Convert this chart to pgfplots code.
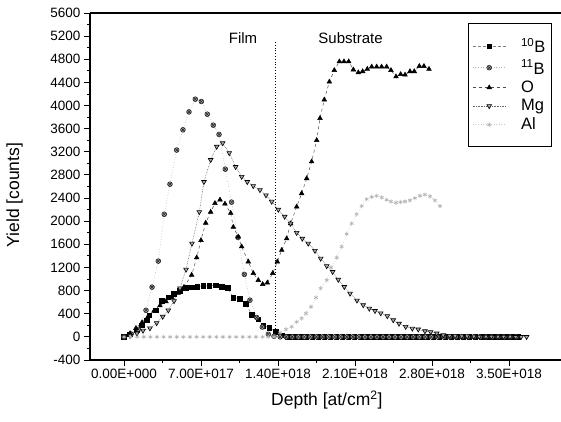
\documentclass[border=0pt]{standalone}
\usepackage{fontspec}
\setmainfont{Liberation Sans}
\usepackage{pgfplots}
\pgfplotsset{compat=1.18}

\begin{document}
\begin{tikzpicture}
\begin{axis}[
  scale only axis,
  width=471pt, height=347pt,
  xmin=-3.09, xmax=39.73,
  ymin=-400, ymax=5600,
  axis x line*=bottom, axis y line*=left,
  axis line style={-, line width=1.2pt},
  tick align=outside,
  major tick length=6pt, minor tick length=3pt,
  every tick/.style={black, line width=0.9pt},
  xtick={0,7,14,21,28,35},
  xticklabels={0.00E+000,7.00E+017,1.40E+018,2.10E+018,2.80E+018,3.50E+018},
  minor x tick num=1,
  ytick={-400,0,400,...,5600},
  minor y tick num=1,
  /pgf/number format/assume math mode=true,
  /pgf/number format/1000 sep={},
  ticklabel style={font=\fontsize{13.5}{15}\selectfont},
  xlabel={Depth [at/cm\textsuperscript{2}]},
  ylabel={Yield [counts]},
  label style={font=\fontsize{17.5}{20}\selectfont},
  xlabel style={at={(axis description cs:0.503,-0.115)}, anchor=center},
  ylabel style={at={(axis description cs:-0.16,0.475)}, anchor=center},
  legend style={at={(axis description cs:0.8025,0.971)}, anchor=north west,
    draw=black, line width=0.9pt, fill=white, inner xsep=4pt, inner ysep=13pt,
    font=\fontsize{16.5}{18.8}\selectfont, row sep=1.5pt},
  legend cell align=left,
  legend image code/.code={\draw[mark repeat=2,mark phase=2] plot coordinates {(0pt,0pt) (16.5pt,0pt) (33pt,0pt)};
    \path (46pt,0pt);},
  clip=false,
]
% 10B
\addplot[densely dashed, gray, line width=0.5pt, mark=square*, mark size=2.3pt,
  mark options={solid, fill=black, draw=black}] coordinates {
(0.00,0) (0.55,45) (1.15,115) (1.61,200) (2.06,290) (2.30,375) (2.88,460) (3.43,620)
(4.03,685) (4.55,745) (5.09,800) (5.64,850) (6.15,860) (6.66,870) (7.21,880) (7.75,885)
(8.34,895) (8.88,865) (9.43,845) (9.94,680) (10.55,660) (11.09,570) (11.61,385) (12.21,305)
(12.66,195) (13.21,160) (13.82,85) (14.34,30) (14.90,0) (15.45,0) (16.00,0) (16.55,0)
(17.10,0) (17.65,0) (18.20,0) (18.75,0) (19.30,0) (19.85,0) (20.40,0) (20.95,0) (21.50,0)
(22.05,0) (22.60,0) (23.15,0) (23.70,0) (24.25,0) (24.80,0) (25.35,0) (25.90,0) (26.45,0)
(27.00,0) (27.55,0) (28.10,0) (28.65,0) (29.20,0) (29.75,0) (30.30,0) (30.85,0) (31.40,0)
(31.95,0) (32.50,0) (33.05,0) (33.60,0) (34.15,0) (34.70,0) (35.25,0) (35.80,0)};
\addlegendentry{\textsuperscript{10}B}
% 11B
\addplot[dotted, gray!60, line width=0.6pt, mark=otimes*, mark size=2.4pt,
  mark options={solid, fill=gray!60, draw=black!85}] coordinates {
(0.00,0) (0.65,50) (1.30,130) (2.00,460) (2.55,860) (3.12,1310) (3.66,2120) (4.18,2640)
(4.79,3230) (5.36,3580) (5.91,3890) (6.48,4110) (7.03,4070) (7.57,3850) (8.12,3660)
(8.64,3500) (9.21,2900) (9.78,2330) (10.36,1720) (10.94,1080) (11.45,635) (12.06,335)
(12.57,170) (13.12,45) (13.64,10) (14.20,0) (14.75,0) (15.30,0) (15.85,0) (16.40,0)
(16.95,0) (17.50,0) (18.05,0) (18.60,0) (19.15,0) (19.70,0) (20.25,0) (20.80,0) (21.35,0)
(21.90,0) (22.45,0) (23.00,0) (23.55,0) (24.10,0) (24.65,0) (25.20,0) (25.75,0) (26.30,0)
(26.85,0) (27.40,0) (27.95,0) (28.50,0) (29.05,0) (29.60,0) (30.15,0) (30.70,0) (31.25,0)
(31.80,0) (32.35,0) (32.90,0) (33.45,0) (34.00,0) (34.55,0) (35.10,0) (35.65,0)};
\addlegendentry{\textsuperscript{11}B}
% O
\addplot[dashed, black!70, line width=0.5pt, mark=triangle*, mark size=2.7pt,
  mark options={solid, fill=black, draw=black}] coordinates {
(0.00,0) (0.55,60) (1.09,150) (1.64,250) (2.18,350) (2.73,450) (3.27,540) (3.82,610)
(4.36,680) (4.91,760) (5.45,860) (6.15,1070) (6.61,1370) (7.00,1670) (7.43,1970)
(7.88,2160) (8.27,2310) (8.73,2370) (9.18,2300) (9.70,2140) (9.94,1900) (10.39,1730)
(10.70,1560) (11.30,1300) (11.76,1100) (12.21,980) (12.61,910) (13.03,935) (13.52,1100)
(13.94,1300) (14.34,1500) (14.79,1700) (15.15,1960) (15.70,2250) (16.15,2480) (16.61,2740)
(17.06,3030) (17.52,3400) (17.82,3780) (18.21,4100) (18.67,4410) (19.12,4610) (19.58,4760)
(20.00,4760) (20.43,4760) (20.85,4620) (21.30,4570) (21.70,4590) (22.12,4630) (22.52,4670)
(22.97,4670) (23.42,4670) (23.88,4670) (24.27,4610) (24.73,4500) (25.15,4540) (25.55,4530)
(26.00,4590) (26.39,4590) (26.85,4680) (27.27,4680) (27.73,4630)};
\addlegendentry{O}
% Mg
\addplot[densely dotted, black!60, line width=0.6pt, mark=triangle*, mark size=2.7pt,
  mark options={solid, rotate=180, fill=gray!70, draw=black}] coordinates {
(0.00,0) (0.55,20) (1.18,60) (1.73,110) (2.36,150) (2.97,240) (3.52,350) (4.03,460)
(4.55,620) (5.09,840) (5.64,1165) (6.18,1615) (6.85,2160) (7.27,2680) (7.88,3060)
(8.43,3290) (8.97,3350) (9.57,3180) (10.15,2940) (10.70,2770) (11.21,2680) (11.75,2610)
(12.36,2540) (12.91,2450) (13.43,2340) (14.03,2200) (14.61,2080) (15.15,1960) (15.70,1800)
(16.21,1700) (16.75,1615) (17.36,1490) (17.88,1355) (18.43,1225) (18.97,1125) (19.48,990)
(20.03,865) (20.55,750) (21.18,630) (21.75,550) (22.30,490) (22.82,450) (23.34,410)
(23.94,360) (24.48,290) (25.00,230) (25.61,175) (26.21,145) (26.75,130) (27.36,100)
(27.88,85) (28.43,60) (29.03,30) (29.60,20) (30.10,15) (30.70,10) (31.20,10) (31.80,8)
(32.30,5) (32.90,5) (33.40,5) (34.00,3) (34.50,3) (35.10,2) (35.60,0) (36.10,0) (36.60,0)};
\addlegendentry{Mg}
% Al
\addplot[dotted, gray!45, line width=0.6pt, mark=asterisk, mark size=2.2pt,
  mark options={solid, gray!60}] coordinates {
(0.00,0) (0.60,0) (1.20,0) (1.80,0) (2.40,0) (3.00,0) (3.60,0) (4.20,0) (4.80,0)
(5.40,0) (6.00,0) (6.60,0) (7.20,0) (7.80,0) (8.40,0) (9.00,0) (9.60,0) (10.20,0)
(10.80,0) (11.40,0) (12.00,0) (12.60,0) (13.10,0) (13.64,0) (14.18,70) (14.73,130)
(15.24,175) (15.70,260) (16.15,320) (16.55,405) (17.00,520) (17.45,680) (17.88,840)
(18.43,980) (18.82,1200) (19.34,1370) (19.79,1560) (20.24,1780) (20.70,1960) (21.15,2120)
(21.61,2260) (22.06,2380) (22.52,2420) (22.97,2440) (23.43,2410) (23.88,2370) (24.27,2340)
(24.73,2320) (25.15,2330) (25.55,2340) (26.00,2360) (26.45,2400) (26.91,2440) (27.36,2460)
(27.82,2430) (28.27,2360) (28.73,2260)};
\addlegendentry{Al}
% film / substrate boundary
\draw[dotted, line width=0.8pt] (axis cs:13.8,0) -- (axis cs:13.8,5100);
\node[font=\fontsize{15}{18}\selectfont] at (axis cs:10.82,5170) {Film};
\node[font=\fontsize{15}{18}\selectfont] at (axis cs:20.6,5170) {Substrate};
\draw[line width=2pt] (rel axis cs:0,1) -- (rel axis cs:1,1);
\end{axis}
\pgfresetboundingbox
\useasboundingbox (-90pt,-62pt) rectangle (471pt,360pt);
\end{tikzpicture}
\end{document}
